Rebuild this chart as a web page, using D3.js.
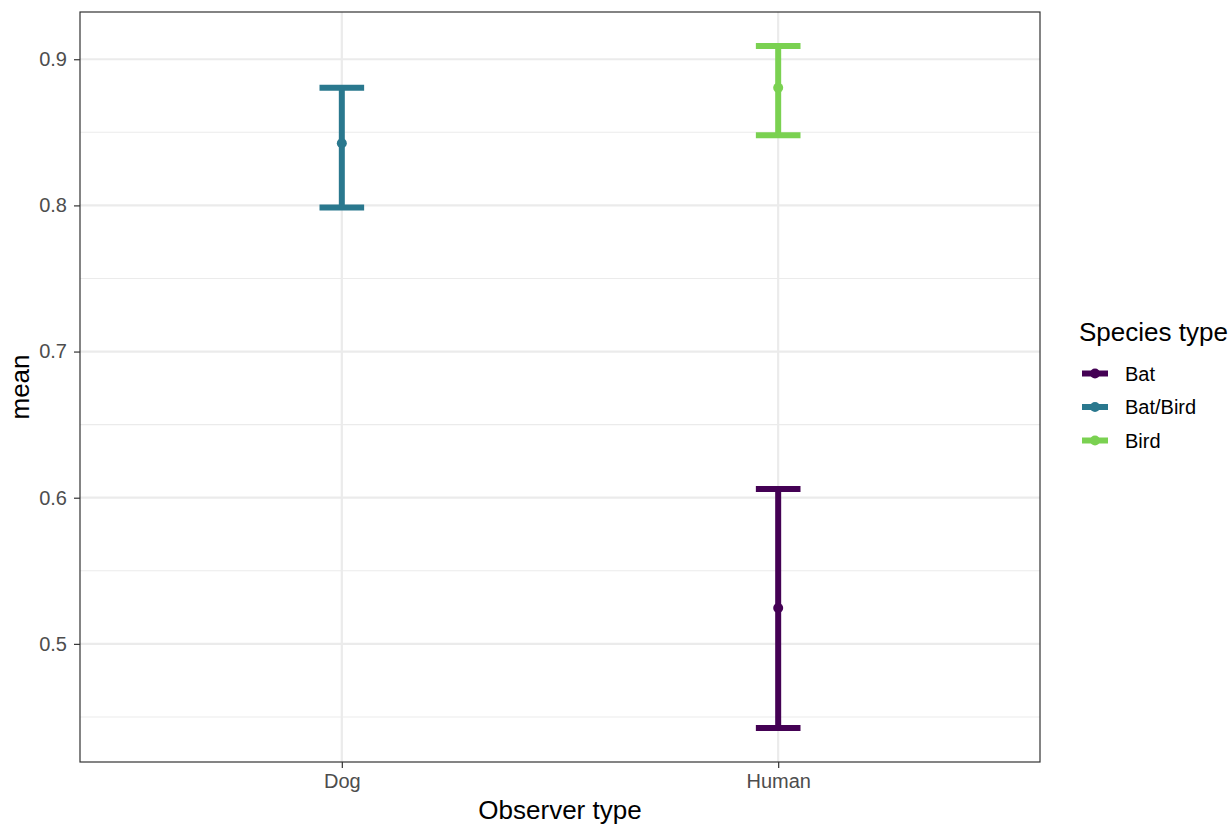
<!DOCTYPE html>
<html><head><meta charset="utf-8">
<script src="https://cdn.jsdelivr.net/npm/d3@7"></script>
<style>body{margin:0;background:#fff;} svg{display:block;font-family:"Liberation Sans",Arial,sans-serif;}</style>
</head><body>
<svg id="c" width="1231" height="825"></svg>
<script>
const observers = ["Dog", "Human"];
const speciesTypes = ["Bat", "Bat/Bird", "Bird"];
const speciesColors = ["#440154", "#2A788E", "#7AD151"];
const rowObserver = ["Dog", "Human", "Human"];
const rowSpecies = ["Bat/Bird", "Bird", "Bat"];
const rowMean = [0.8425, 0.8805, 0.5245];
const rowLower = [0.7985, 0.848, 0.4425];
const rowUpper = [0.8805, 0.909, 0.606];
const yTicks = [0.5, 0.6, 0.7, 0.8, 0.9];
const yMinor = [0.45, 0.55, 0.65, 0.75, 0.85];

const rows = rowObserver.map((o, i) => ({o, s: rowSpecies[i], m: rowMean[i], lo: rowLower[i], hi: rowUpper[i]}));
const svg = d3.select("#c");
const L = 80, R = 1040, T = 12, B = 762;
const lo = d3.min(rowLower), hi = d3.max(rowUpper), pad = (hi - lo) * 0.05;
const y = d3.scaleLinear().domain([lo - pad, hi + pad]).range([B, T]);
const x = d3.scalePoint().domain(observers).range([L, R]).padding(0.6);
const color = d3.scaleOrdinal().domain(speciesTypes).range(speciesColors);

// grid
svg.append("g").selectAll("line").data(yMinor.filter(v => y(v) > T && y(v) < B)).join("line")
  .attr("x1", L).attr("x2", R).attr("y1", d => y(d)).attr("y2", d => y(d))
  .attr("stroke", "#EBEBEB").attr("stroke-width", 1.1);
svg.append("g").selectAll("line").data(yTicks).join("line")
  .attr("x1", L).attr("x2", R).attr("y1", d => y(d)).attr("y2", d => y(d))
  .attr("stroke", "#EBEBEB").attr("stroke-width", 2.2);
svg.append("g").selectAll("line").data(observers).join("line")
  .attr("x1", d => x(d)).attr("x2", d => x(d)).attr("y1", T).attr("y2", B)
  .attr("stroke", "#EBEBEB").attr("stroke-width", 2.2);

// error bars
const capW = x.step() * 0.1;
const g = svg.append("g");
rows.forEach(r => {
  const cx = x(r.o), c = color(r.s);
  g.append("line").attr("x1", cx).attr("x2", cx).attr("y1", y(r.lo)).attr("y2", y(r.hi)).attr("stroke", c).attr("stroke-width", 6);
  g.append("line").attr("x1", cx - capW/2 - 0.5).attr("x2", cx + capW/2 + 0.5).attr("y1", y(r.lo)).attr("y2", y(r.lo)).attr("stroke", c).attr("stroke-width", 6);
  g.append("line").attr("x1", cx - capW/2 - 0.5).attr("x2", cx + capW/2 + 0.5).attr("y1", y(r.hi)).attr("y2", y(r.hi)).attr("stroke", c).attr("stroke-width", 6);
  g.append("circle").attr("cx", cx).attr("cy", y(r.m)).attr("r", 5).attr("fill", c);
});

// border
svg.append("rect").attr("x", L).attr("y", T).attr("width", R - L).attr("height", B - T)
  .attr("fill", "none").attr("stroke", "#333333").attr("stroke-width", 1.2);

// axes
const ya = svg.append("g").attr("transform", `translate(${L},0)`)
  .call(d3.axisLeft(y).tickValues(yTicks).tickFormat(d3.format(".1f")).tickSize(6).tickPadding(7));
const xa = svg.append("g").attr("transform", `translate(0,${B})`)
  .call(d3.axisBottom(x).tickSize(6).tickPadding(6));
[ya, xa].forEach(a => {
  a.select(".domain").remove();
  a.selectAll(".tick line").attr("stroke", "#333333").attr("stroke-width", 1.2);
  a.selectAll(".tick text").attr("fill", "#4D4D4D").style("font-size", "20px").style("font-family", "Liberation Sans, Arial, sans-serif");
});

// axis titles
svg.append("text").attr("x", (L + R) / 2).attr("y", 819).attr("text-anchor", "middle")
  .style("font-size", "26px").attr("fill", "#000").text("Observer type");
svg.append("text").attr("transform", `translate(29,${(T + B) / 2}) rotate(-90)`).attr("text-anchor", "middle")
  .style("font-size", "26px").attr("fill", "#000").text("mean");

// legend
const lg = svg.append("g");
lg.append("text").attr("x", 1079).attr("y", 341).style("font-size", "26px").attr("fill", "#000").text("Species type");
speciesTypes.forEach((s, i) => {
  const yy = 373.5 + i * 33.5;
  lg.append("line").attr("x1", 1082).attr("x2", 1108).attr("y1", yy).attr("y2", yy).attr("stroke", color(s)).attr("stroke-width", 6);
  lg.append("circle").attr("cx", 1095).attr("cy", yy).attr("r", 5).attr("fill", color(s));
  lg.append("text").attr("x", 1125).attr("y", yy + 7).style("font-size", "20px").attr("fill", "#000").text(s);
});
</script>
</body></html>
